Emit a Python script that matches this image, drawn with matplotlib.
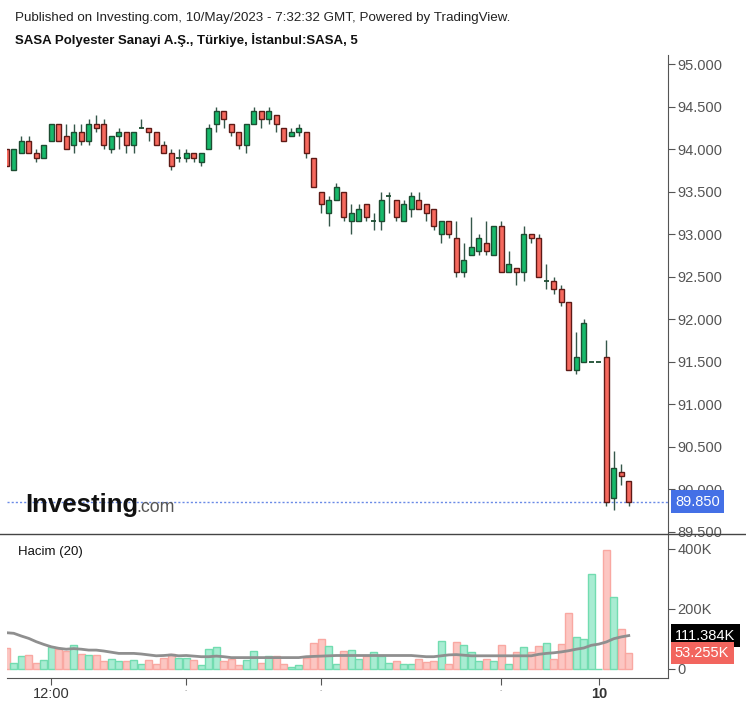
import matplotlib.pyplot as plt
from matplotlib.ticker import FuncFormatter

plt.rcParams['font.family'] = ['Liberation Sans', 'DejaVu Sans']

# 5-minute candles, index -1 is the partly hidden one on the left edge
bars = list(range(-1, 83))
opens = [94.00, 93.75, 93.95, 94.10, 93.95, 93.90, 94.10, 94.30, 94.15, 94.05,
         94.20, 94.10, 94.30, 94.30, 94.00, 94.15, 94.20, 94.05, 94.25, 94.25,
         94.20, 94.05, 93.95, 93.90, 93.90, 93.95, 93.85, 94.00, 94.30, 94.45,
         94.30, 94.20, 94.05, 94.30, 94.45, 94.35, 94.40, 94.25, 94.15, 94.20,
         94.20, 93.90, 93.50, 93.25, 93.40, 93.50, 93.15, 93.15, 93.35, 93.15,
         93.15, 93.45, 93.40, 93.15, 93.30, 93.40, 93.35, 93.30, 93.00, 93.15,
         92.95, 92.55, 92.75, 92.80, 92.90, 92.75, 93.10, 92.55, 92.60, 92.55,
         93.00, 92.95, 92.45, 92.45, 92.35, 92.20, 91.40, 91.50, 91.50, 91.50,
         91.55, 89.90, 90.20, 90.10]
highs = [94.00, 94.00, 94.15, 94.15, 94.00, 94.05, 94.30, 94.30, 94.30, 94.30,
         94.30, 94.35, 94.40, 94.35, 94.15, 94.25, 94.20, 94.20, 94.35, 94.25,
         94.20, 94.10, 94.00, 94.00, 94.00, 93.95, 93.95, 94.30, 94.50, 94.45,
         94.30, 94.20, 94.30, 94.50, 94.45, 94.50, 94.40, 94.25, 94.25, 94.30,
         94.20, 93.90, 93.50, 93.45, 93.60, 93.50, 93.35, 93.35, 93.35, 93.25,
         93.50, 93.50, 93.40, 93.40, 93.50, 93.50, 93.35, 93.30, 93.15, 93.15,
         93.15, 92.90, 93.20, 93.00, 93.15, 93.10, 93.15, 92.80, 92.60, 93.10,
         93.00, 93.00, 92.65, 92.50, 92.40, 92.20, 91.85, 92.00, 91.50, 91.50,
         91.75, 90.45, 90.30, 90.10]
lows = [93.80, 93.75, 93.95, 93.95, 93.85, 93.90, 94.10, 94.10, 94.00, 93.95,
        94.05, 94.05, 94.20, 94.00, 93.95, 94.00, 93.95, 93.95, 94.25, 94.10,
        94.05, 93.95, 93.75, 93.85, 93.85, 93.85, 93.80, 94.00, 94.20, 94.25,
        94.15, 94.00, 93.95, 94.30, 94.25, 94.30, 94.20, 94.10, 94.15, 94.15,
        93.90, 93.55, 93.25, 93.10, 93.40, 93.15, 93.00, 93.15, 93.15, 93.05,
        93.05, 93.25, 93.15, 93.15, 93.20, 93.30, 93.15, 93.05, 92.90, 92.95,
        92.50, 92.50, 92.75, 92.75, 92.75, 92.75, 92.55, 92.55, 92.40, 92.45,
        92.90, 92.50, 92.35, 92.30, 92.15, 91.40, 91.35, 91.50, 91.50, 91.50,
        89.80, 89.75, 90.05, 89.80]
closes = [93.80, 94.00, 94.10, 93.95, 93.90, 94.05, 94.30, 94.10, 94.00, 94.20,
          94.10, 94.30, 94.25, 94.05, 94.15, 94.20, 94.05, 94.20, 94.25, 94.20,
          94.05, 93.95, 93.80, 93.90, 93.95, 93.90, 93.95, 94.25, 94.45, 94.35,
          94.20, 94.05, 94.30, 94.45, 94.35, 94.45, 94.30, 94.10, 94.20, 94.25,
          93.95, 93.55, 93.35, 93.40, 93.55, 93.20, 93.25, 93.30, 93.20, 93.15,
          93.40, 93.45, 93.20, 93.35, 93.45, 93.30, 93.25, 93.10, 93.15, 93.00,
          92.55, 92.70, 92.85, 92.95, 92.80, 93.10, 92.55, 92.65, 92.55, 93.00,
          92.95, 92.50, 92.45, 92.35, 92.20, 91.40, 91.55, 91.95, 91.50, 91.50,
          89.85, 90.25, 90.15, 89.85]
volumes = [69, 21, 43, 47, 21, 30, 74, 66, 60, 80,
           50, 47, 47, 27, 34, 27, 27, 30, 17, 30,
           17, 38, 50, 38, 38, 30, 13, 67, 72, 27,
           34, 13, 30, 60, 21, 43, 43, 17, 7, 13,
           38, 88, 101, 77, 17, 60, 63, 33, 43, 56,
           43, 21, 27, 17, 17, 33, 23, 27, 93, 17,
           89, 80, 56, 27, 33, 27, 80, 17, 56, 72,
           56, 77, 88, 33, 83, 188, 106, 100, 317, 1,
           397, 241, 133, 53.255]
vol_ma = [121, 119, 110, 102, 91, 82, 74, 69, 66, 68,
          66, 63, 63, 60, 56, 52, 52, 52, 50, 47,
          44, 45, 47, 44, 45, 43, 41, 41, 43, 41,
          38, 38, 38, 38, 38, 38, 38, 38, 38, 38,
          41, 42, 43, 44, 45, 45, 45, 45, 45, 45,
          45, 45, 45, 45, 45, 43, 41, 41, 44, 47,
          48, 46, 44, 44, 44, 44, 44, 44, 44, 44,
          44, 49, 52, 54, 57, 61, 66, 70, 79, 83,
          90, 101, 107, 111.384]

time_ticks = [5, 23, 41, 65, 78]
time_labels = ["12:00", "-", "-", "-", "10"]

UP, UP_EDGE = "#17b96b", "#1d4d32"
DOWN, DOWN_EDGE = "#f6695e", "#5e1a16"
WICK = "#35574a"

W, H = 746, 707
fig = plt.figure(figsize=(W / 100, H / 100), dpi=100)


def rect(l, t, r, b):
    return [l / W, 1 - b / H, (r - l) / W, (b - t) / H]


ax = fig.add_axes(rect(7.3, 55, 668, 534))
axv = fig.add_axes(rect(7.3, 534, 668, 678))

# candles
bw = 0.72
ax.vlines(bars, lows, highs, color=WICK, lw=1, zorder=2)
for x, o, c in zip(bars, opens, closes):
    if o == c:
        ax.hlines(o, x - bw / 2, x + bw / 2, color=UP_EDGE, lw=1.3, zorder=3)
        continue
    up = c > o
    ax.bar(x, abs(c - o), bottom=min(o, c), width=bw,
           color=UP if up else DOWN, edgecolor=UP_EDGE if up else DOWN_EDGE,
           lw=1, zorder=3)

ax.axhline(closes[-1], color="#6a8ae6", lw=1, ls=(0, (1.5, 1.5)), zorder=1)

ax.set_xlim(-0.86, 87.23)
ax.set_ylim(89.471, 95.106)
ax.set_yticks([89.5 + 0.5 * k for k in range(12)])
ax.yaxis.set_major_formatter(FuncFormatter(lambda v, p: f"{v:.3f}"))
ax.yaxis.tick_right()
ax.set_xticks([])
for s in ["left", "top", "bottom"]:
    ax.spines[s].set_visible(False)
ax.spines["right"].set_color("#555555")
ax.tick_params(axis="y", length=5, color="#555555", labelcolor="#555555",
               labelsize=10.5, pad=2)

# volume pane
vcol = []
vedge = []
for o, c in zip(opens, closes):
    if c >= o:
        vcol.append("#a8ecd2")
        vedge.append("#72dcb0")
    else:
        vcol.append("#fcc6c2")
        vedge.append("#f9a8a2")
axv.bar(bars, [v * 1000 for v in volumes], width=0.9, color=vcol,
        edgecolor=vedge, lw=1, zorder=2)
axv.plot(bars, [v * 1000 for v in vol_ma], color="#8f8f8f", lw=2, zorder=3)

axv.set_xlim(-0.86, 87.23)
axv.set_ylim(-30000, 450000)
axv.set_yticks([0, 200000, 400000])
axv.yaxis.set_major_formatter(
    FuncFormatter(lambda v, p: "0" if v == 0 else f"{int(v / 1000)}K"))
axv.yaxis.tick_right()
for s in ["left", "top"]:
    axv.spines[s].set_visible(False)
axv.spines["right"].set_color("#555555")
axv.spines["bottom"].set_color("#555555")
axv.tick_params(axis="y", length=5, color="#555555", labelcolor="#555555",
                labelsize=10.5, pad=2)
axv.set_xticks(time_ticks)
axv.set_xticklabels(time_labels)
axv.tick_params(axis="x", length=5, color="#555555", labelcolor="#333333",
                labelsize=10.5, pad=1.5)
lbls = axv.get_xticklabels()
for lb in lbls[1:4]:
    lb.set_fontsize(5)
    lb.set_color("#999999")
lbls[-1].set_fontweight("bold")


# last value labels
def tag(a, y, txt, fc):
    a.annotate(txt, xy=(1, y), xycoords=("axes fraction", "data"),
               xytext=(5, 0), textcoords="offset points", ha="left",
               va="center", color="white", fontsize=10.5, annotation_clip=False,
               bbox=dict(boxstyle="square,pad=0.3", fc=fc, ec="none"), zorder=10)


tag(ax, closes[-1], f"{closes[-1]:.3f}", "#4470e6")
tag(axv, vol_ma[-1] * 1000, f"{vol_ma[-1]:.3f}K", "#000000")
tag(axv, volumes[-1] * 1000, f"{volumes[-1]:.3f}K", "#f2655e")

# pane separator
fig.add_artist(plt.Line2D([0, 1], [1 - 534 / H, 1 - 534 / H], color="#444444", lw=1))

fig.text(15 / W, 1 - 21 / H, "Published on Investing.com, 10/May/2023 - 7:32:32 GMT, Powered by TradingView.",
         fontsize=9.6, color="#222222", va="baseline")
fig.text(15 / W, 1 - 44 / H, "SASA Polyester Sanayi A.Ş., Türkiye, İstanbul:SASA, 5",
         fontsize=9.5, fontweight="bold", color="#111111", va="baseline")
fig.text(18 / W, 1 - 555 / H, "Hacim (20)", fontsize=9.5, color="#111111", va="baseline")

# watermark
logo = fig.text(25 / W, 1 - 512 / H, "Investing", fontsize=18.5, fontweight="bold",
                color="#111111", va="baseline")
fig.canvas.draw()
bb = logo.get_window_extent()
fig.text((bb.x1 - 2) / W, 1 - 512 / H, ".com", fontsize=12.8, color="#555555",
         va="baseline")

fig.savefig("out.png", dpi=100)
